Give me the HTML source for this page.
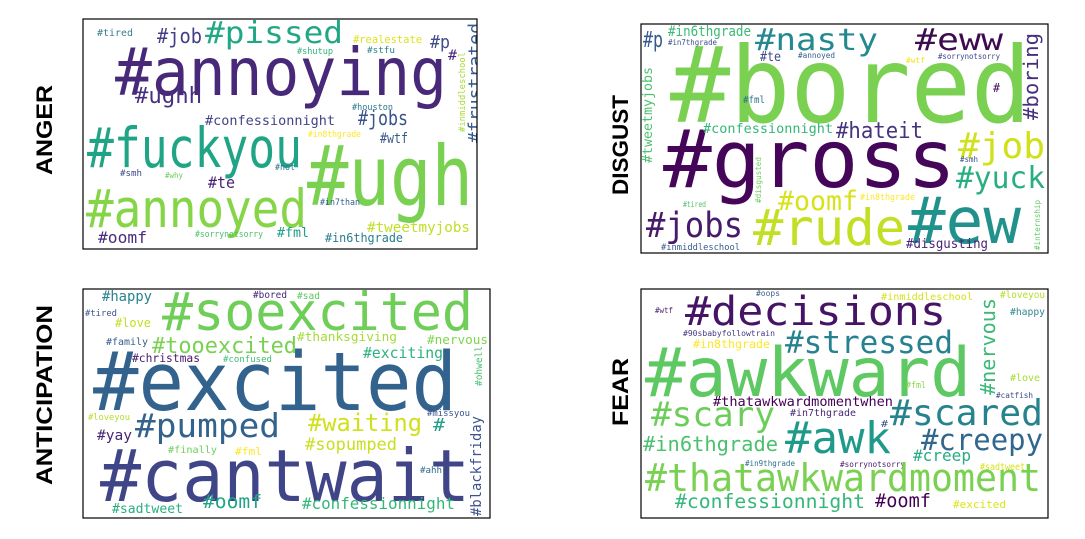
<!DOCTYPE html>
<html><head><meta charset="utf-8"><style>
html,body{margin:0;padding:0;background:#fff;width:1085px;height:539px;overflow:hidden}
svg{display:block}
.w{font-family:"DejaVu Sans Mono","Liberation Mono",monospace}
.lbl{font-family:"Liberation Sans",sans-serif;font-weight:bold;font-size:22px;fill:#000}
</style></head><body>
<svg width="1085" height="539" viewBox="0 0 1085 539">
<defs>
<clipPath id="cA"><rect x="83" y="19" width="394" height="230"/></clipPath>
<clipPath id="cD"><rect x="641" y="24" width="407" height="229"/></clipPath>
<clipPath id="cN"><rect x="83" y="289" width="407" height="229"/></clipPath>
<clipPath id="cF"><rect x="641" y="289" width="407" height="229"/></clipPath>
</defs>
<text class="lbl" x="130" y="52" text-anchor="middle" textLength="90" lengthAdjust="spacingAndGlyphs" transform="rotate(-90 130 52) translate(-130 -52) translate(0 0)" style="display:none">ANGER</text>
<g>
<text class="lbl" x="0" y="0" text-anchor="middle" textLength="90" lengthAdjust="spacingAndGlyphs" transform="translate(52 130) rotate(-90)">ANGER</text>
<text class="lbl" x="0" y="0" text-anchor="middle" textLength="100" lengthAdjust="spacingAndGlyphs" transform="translate(628 145) rotate(-90)">DISGUST</text>
<text class="lbl" x="0" y="0" text-anchor="middle" textLength="180" lengthAdjust="spacingAndGlyphs" transform="translate(52 395) rotate(-90)">ANTICIPATION</text>
<text class="lbl" x="0" y="0" text-anchor="middle" textLength="68" lengthAdjust="spacingAndGlyphs" transform="translate(628 392) rotate(-90)">FEAR</text>
</g>

<!-- ANGER -->
<g>
<g class="w" clip-path="url(#cA)" lengthAdjust="spacingAndGlyphs">
<text x="115" y="95" font-size="66" textLength="332" lengthAdjust="spacingAndGlyphs" fill="#482878">#annoying</text>
<text x="307" y="205" font-size="83" textLength="166" lengthAdjust="spacingAndGlyphs" fill="#7ad151">#ugh</text>
<text x="87" y="167" font-size="55" textLength="215" lengthAdjust="spacingAndGlyphs" fill="#20a486">#fuckyou</text>
<text x="86" y="227" font-size="53" textLength="221" lengthAdjust="spacingAndGlyphs" fill="#86d549">#annoyed</text>
<text x="205" y="43" font-size="30" textLength="138" lengthAdjust="spacingAndGlyphs" fill="#22a785">#pissed</text>
<text x="157" y="43" font-size="20" textLength="45" lengthAdjust="spacingAndGlyphs" fill="#433e85">#job</text>
<text x="97" y="36" font-size="10" textLength="36" lengthAdjust="spacingAndGlyphs" fill="#3b7c8c">#tired</text>
<text x="353" y="43" font-size="10.4" textLength="69" lengthAdjust="spacingAndGlyphs" fill="#dde318">#realestate</text>
<text x="297" y="54" font-size="8.5" textLength="36" lengthAdjust="spacingAndGlyphs" fill="#2fb47c">#shutup</text>
<text x="367" y="53" font-size="9" textLength="28" lengthAdjust="spacingAndGlyphs" fill="#27808e">#stfu</text>
<text x="430" y="48" font-size="18" textLength="20" lengthAdjust="spacingAndGlyphs" fill="#3e4c8a">#p</text>
<text x="448" y="60" font-size="14" textLength="9" lengthAdjust="spacingAndGlyphs" fill="#482677">#</text>
<text x="0" y="0" font-size="18" textLength="120" lengthAdjust="spacingAndGlyphs" fill="#365c8d" transform="translate(481 143) rotate(-90)">#frustrated</text>
<text x="0" y="0" font-size="9" textLength="80" lengthAdjust="spacingAndGlyphs" fill="#a8db34" transform="translate(465 132) rotate(-90)">#inmiddleschool</text>
<text x="135" y="103" font-size="22" textLength="67" lengthAdjust="spacingAndGlyphs" fill="#46307e">#ughh</text>
<text x="205" y="125" font-size="13.5" textLength="130" lengthAdjust="spacingAndGlyphs" fill="#414487">#confessionnight</text>
<text x="358" y="125" font-size="20" textLength="50" lengthAdjust="spacingAndGlyphs" fill="#3b528b">#jobs</text>
<text x="352" y="110" font-size="9" textLength="41" lengthAdjust="spacingAndGlyphs" fill="#2a788e">#houston</text>
<text x="308" y="137" font-size="8.5" textLength="53" lengthAdjust="spacingAndGlyphs" fill="#fde725">#in8thgrade</text>
<text x="380" y="143" font-size="14" textLength="28" lengthAdjust="spacingAndGlyphs" fill="#38598c">#wtf</text>
<text x="120" y="176" font-size="9" textLength="22" lengthAdjust="spacingAndGlyphs" fill="#3e4989">#smh</text>
<text x="165" y="178" font-size="8" textLength="18" lengthAdjust="spacingAndGlyphs" fill="#6ccd5a">#why</text>
<text x="275" y="170" font-size="8.5" textLength="20" lengthAdjust="spacingAndGlyphs" fill="#2d718e">#not</text>
<text x="208" y="188" font-size="16" textLength="27" lengthAdjust="spacingAndGlyphs" fill="#481f70">#te</text>
<text x="320" y="205" font-size="8.5" textLength="40" lengthAdjust="spacingAndGlyphs" fill="#35608d">#in7than</text>
<text x="367" y="232" font-size="14.3" textLength="103" lengthAdjust="spacingAndGlyphs" fill="#c0df25">#tweetmyjobs</text>
<text x="98" y="243" font-size="16" textLength="49" lengthAdjust="spacingAndGlyphs" fill="#472d7b">#oomf</text>
<text x="195" y="237" font-size="8.5" textLength="68" lengthAdjust="spacingAndGlyphs" fill="#4ac16d">#sorrynotsorry</text>
<text x="277" y="237" font-size="13" textLength="32" lengthAdjust="spacingAndGlyphs" fill="#1f9e89">#fml</text>
<text x="325" y="242" font-size="12.8" textLength="78" lengthAdjust="spacingAndGlyphs" fill="#287d8e">#in6thgrade</text>
</g>
<rect x="83" y="19" width="394" height="230" fill="none" stroke="#000" stroke-width="1.2"/>
</g>

<!-- DISGUST -->
<g>
<g class="w" clip-path="url(#cD)">
<text x="670" y="122" font-size="105" textLength="361" lengthAdjust="spacingAndGlyphs" fill="#7ad151">#bored</text>
<text x="663" y="187" font-size="80" textLength="293" lengthAdjust="spacingAndGlyphs" fill="#450559">#gross</text>
<text x="908" y="243" font-size="64" textLength="113" lengthAdjust="spacingAndGlyphs" fill="#21918c">#ew</text>
<text x="753" y="245" font-size="50" textLength="152" lengthAdjust="spacingAndGlyphs" fill="#c2df23">#rude</text>
<text x="646" y="237" font-size="35" textLength="97" lengthAdjust="spacingAndGlyphs" fill="#481a6c">#jobs</text>
<text x="778" y="210" font-size="27" textLength="80" lengthAdjust="spacingAndGlyphs" fill="#d8e219">#oomf</text>
<text x="755" y="50" font-size="30" textLength="123" lengthAdjust="spacingAndGlyphs" fill="#23898e">#nasty</text>
<text x="915" y="50" font-size="30" textLength="88" lengthAdjust="spacingAndGlyphs" fill="#3d0b4f">#eww</text>
<text x="643" y="47" font-size="22" textLength="20" lengthAdjust="spacingAndGlyphs" fill="#375a8c">#p</text>
<text x="668" y="36" font-size="13.8" textLength="83" lengthAdjust="spacingAndGlyphs" fill="#3aba76">#in6thgrade</text>
<text x="668" y="45" font-size="8" textLength="49" lengthAdjust="spacingAndGlyphs" fill="#3b528b">#in7thgrade</text>
<text x="760" y="61" font-size="13" textLength="21" lengthAdjust="spacingAndGlyphs" fill="#3e4a89">#te</text>
<text x="798" y="58" font-size="8" textLength="37" lengthAdjust="spacingAndGlyphs" fill="#355f8d">#annoyed</text>
<text x="906" y="63" font-size="8" textLength="19" lengthAdjust="spacingAndGlyphs" fill="#efe51c">#wtf</text>
<text x="938" y="59" font-size="8" textLength="62" lengthAdjust="spacingAndGlyphs" fill="#3f4889">#sorrynotsorry</text>
<text x="0" y="0" font-size="20" textLength="87" lengthAdjust="spacingAndGlyphs" fill="#472f7d" transform="translate(1038 120) rotate(-90)">#boring</text>
<text x="0" y="0" font-size="13.3" textLength="96" lengthAdjust="spacingAndGlyphs" fill="#4cc26c" transform="translate(652 163) rotate(-90)">#tweetmyjobs</text>
<text x="993" y="92" font-size="12" textLength="7" lengthAdjust="spacingAndGlyphs" fill="#450a5c">#</text>
<text x="743" y="103" font-size="10" textLength="22" lengthAdjust="spacingAndGlyphs" fill="#2c728e">#fml</text>
<text x="703" y="133" font-size="13.5" textLength="130" lengthAdjust="spacingAndGlyphs" fill="#35b779">#confessionnight</text>
<text x="836" y="138" font-size="22" textLength="87" lengthAdjust="spacingAndGlyphs" fill="#46337e">#hateit</text>
<text x="958" y="158" font-size="36" textLength="87" lengthAdjust="spacingAndGlyphs" fill="#d0e11c">#job</text>
<text x="956" y="188" font-size="30" textLength="89" lengthAdjust="spacingAndGlyphs" fill="#29af7f">#yuck</text>
<text x="960" y="162" font-size="8" textLength="18" lengthAdjust="spacingAndGlyphs" fill="#3a538b">#smh</text>
<text x="0" y="0" font-size="7.7" textLength="46" lengthAdjust="spacingAndGlyphs" fill="#6ccd5a" transform="translate(761 203) rotate(-90)">#disgusted</text>
<text x="860" y="200" font-size="9" textLength="55" lengthAdjust="spacingAndGlyphs" fill="#fde725">#in8thgrade</text>
<text x="683" y="207" font-size="7.5" textLength="23" lengthAdjust="spacingAndGlyphs" fill="#54c568">#tired</text>
<text x="906" y="248" font-size="13.5" textLength="82" lengthAdjust="spacingAndGlyphs" fill="#482475">#disgusting</text>
<text x="661" y="250" font-size="9" textLength="79" lengthAdjust="spacingAndGlyphs" fill="#365c8d">#inmiddleschool</text>
<text x="0" y="0" font-size="8" textLength="50" lengthAdjust="spacingAndGlyphs" fill="#5ec962" transform="translate(1040 250) rotate(-90)">#internship</text>
</g>
<rect x="641" y="24" width="407" height="229" fill="none" stroke="#000" stroke-width="1.2"/>
</g>

<!-- ANTICIPATION -->
<g>
<g class="w" clip-path="url(#cN)">
<text x="93" y="410" font-size="81" textLength="364" lengthAdjust="spacingAndGlyphs" fill="#33638d">#excited</text>
<text x="100" y="501" font-size="72" textLength="370" lengthAdjust="spacingAndGlyphs" fill="#404588">#cantwait</text>
<text x="162" y="330" font-size="53" textLength="311" lengthAdjust="spacingAndGlyphs" fill="#6ece58">#soexcited</text>
<text x="152" y="353" font-size="22" textLength="145" lengthAdjust="spacingAndGlyphs" fill="#7ad151">#tooexcited</text>
<text x="135" y="437" font-size="33" textLength="145" lengthAdjust="spacingAndGlyphs" fill="#33638d">#pumped</text>
<text x="308" y="431" font-size="23.7" textLength="114" lengthAdjust="spacingAndGlyphs" fill="#d0e11c">#waiting</text>
<text x="305" y="450" font-size="17" textLength="92" lengthAdjust="spacingAndGlyphs" fill="#c8e020">#sopumped</text>
<text x="102" y="301" font-size="14" textLength="50" lengthAdjust="spacingAndGlyphs" fill="#25858e">#happy</text>
<text x="85" y="316" font-size="9" textLength="32" lengthAdjust="spacingAndGlyphs" fill="#3b528b">#tired</text>
<text x="115" y="327" font-size="12" textLength="36" lengthAdjust="spacingAndGlyphs" fill="#c2df23">#love</text>
<text x="253" y="298" font-size="9.5" textLength="34" lengthAdjust="spacingAndGlyphs" fill="#482878">#bored</text>
<text x="297" y="299" font-size="9.5" textLength="23" lengthAdjust="spacingAndGlyphs" fill="#5ec962">#sad</text>
<text x="106" y="345" font-size="10" textLength="42" lengthAdjust="spacingAndGlyphs" fill="#355f8d">#family</text>
<text x="297" y="341" font-size="12.8" textLength="100" lengthAdjust="spacingAndGlyphs" fill="#a5db36">#thanksgiving</text>
<text x="427" y="344" font-size="12.7" textLength="61" lengthAdjust="spacingAndGlyphs" fill="#7fd34e">#nervous</text>
<text x="132" y="362" font-size="11.3" textLength="68" lengthAdjust="spacingAndGlyphs" fill="#48186a">#christmas</text>
<text x="223" y="362" font-size="9" textLength="49" lengthAdjust="spacingAndGlyphs" fill="#3fbc73">#confused</text>
<text x="363" y="358" font-size="14.8" textLength="80" lengthAdjust="spacingAndGlyphs" fill="#2db27d">#exciting</text>
<text x="0" y="0" font-size="9.5" textLength="40" lengthAdjust="spacingAndGlyphs" fill="#4ac16d" transform="translate(482 386) rotate(-90)">#ohwell</text>
<text x="88" y="420" font-size="8.6" textLength="42" lengthAdjust="spacingAndGlyphs" fill="#b5de2b">#loveyou</text>
<text x="427" y="416" font-size="9" textLength="43" lengthAdjust="spacingAndGlyphs" fill="#3b528b">#missyou</text>
<text x="433" y="431" font-size="18" textLength="12" lengthAdjust="spacingAndGlyphs" fill="#1f9f88">#</text>
<text x="0" y="0" font-size="14" textLength="100" lengthAdjust="spacingAndGlyphs" fill="#3b528b" transform="translate(481 516) rotate(-90)">#blackfriday</text>
<text x="97" y="440" font-size="14.5" textLength="35" lengthAdjust="spacingAndGlyphs" fill="#482475">#yay</text>
<text x="168" y="453" font-size="10" textLength="49" lengthAdjust="spacingAndGlyphs" fill="#6ccd5a">#finally</text>
<text x="235" y="455" font-size="11" textLength="27" lengthAdjust="spacingAndGlyphs" fill="#fde725">#fml</text>
<text x="420" y="473" font-size="9" textLength="22" lengthAdjust="spacingAndGlyphs" fill="#31688e">#ahh</text>
<text x="112" y="513" font-size="13" textLength="71" lengthAdjust="spacingAndGlyphs" fill="#29af7f">#sadtweet</text>
<text x="203" y="508" font-size="19" textLength="59" lengthAdjust="spacingAndGlyphs" fill="#20a486">#oomf</text>
<text x="302" y="509" font-size="15.9" textLength="153" lengthAdjust="spacingAndGlyphs" fill="#35b779">#confessionnight</text>
</g>
<rect x="83" y="289" width="407" height="229" fill="none" stroke="#000" stroke-width="1.2"/>
</g>

<!-- FEAR -->
<g>
<g class="w" clip-path="url(#cF)">
<text x="645" y="396" font-size="68" textLength="326" lengthAdjust="spacingAndGlyphs" fill="#5ec962">#awkward</text>
<text x="685" y="325" font-size="40" textLength="261" lengthAdjust="spacingAndGlyphs" fill="#471365">#decisions</text>
<text x="785" y="353" font-size="31" textLength="168" lengthAdjust="spacingAndGlyphs" fill="#26828e">#stressed</text>
<text x="0" y="0" font-size="20" textLength="97" lengthAdjust="spacingAndGlyphs" fill="#3aba76" transform="translate(995 395) rotate(-90)">#nervous</text>
<text x="881" y="300" font-size="10" textLength="92" lengthAdjust="spacingAndGlyphs" fill="#d5e21a">#inmiddleschool</text>
<text x="1000" y="298" font-size="9.5" textLength="45" lengthAdjust="spacingAndGlyphs" fill="#b5de2b">#loveyou</text>
<text x="1010" y="315" font-size="10" textLength="35" lengthAdjust="spacingAndGlyphs" fill="#31868d">#happy</text>
<text x="756" y="296" font-size="8" textLength="24" lengthAdjust="spacingAndGlyphs" fill="#3b5c8c">#oops</text>
<text x="655" y="313" font-size="8" textLength="18" lengthAdjust="spacingAndGlyphs" fill="#481f70">#wtf</text>
<text x="683" y="336" font-size="8" textLength="92" lengthAdjust="spacingAndGlyphs" fill="#443983">#90sbabyfollowtrain</text>
<text x="693" y="348" font-size="11.7" textLength="77" lengthAdjust="spacingAndGlyphs" fill="#fde725">#in8thgrade</text>
<text x="1010" y="381" font-size="10" textLength="30" lengthAdjust="spacingAndGlyphs" fill="#a8db34">#love</text>
<text x="906" y="388" font-size="9" textLength="20" lengthAdjust="spacingAndGlyphs" fill="#86d549">#fml</text>
<text x="996" y="398" font-size="8" textLength="37" lengthAdjust="spacingAndGlyphs" fill="#3e4989">#catfish</text>
<text x="713" y="406" font-size="13.6" textLength="180" lengthAdjust="spacingAndGlyphs" fill="#440154">#thatawkwardmomentwhen</text>
<text x="790" y="416" font-size="10" textLength="66" lengthAdjust="spacingAndGlyphs" fill="#482878">#in7thgrade</text>
<text x="651" y="426" font-size="34" textLength="124" lengthAdjust="spacingAndGlyphs" fill="#6ccd5a">#scary</text>
<text x="890" y="425" font-size="36" textLength="153" lengthAdjust="spacingAndGlyphs" fill="#25838e">#scared</text>
<text x="881" y="427" font-size="10" textLength="7" lengthAdjust="spacingAndGlyphs" fill="#3b528b">#</text>
<text x="785" y="453" font-size="44" textLength="106" lengthAdjust="spacingAndGlyphs" fill="#1f9a8a">#awk</text>
<text x="921" y="450" font-size="29" textLength="122" lengthAdjust="spacingAndGlyphs" fill="#31668e">#creepy</text>
<text x="643" y="451" font-size="20" textLength="135" lengthAdjust="spacingAndGlyphs" fill="#4ac16d">#in6thgrade</text>
<text x="913" y="461" font-size="16" textLength="58" lengthAdjust="spacingAndGlyphs" fill="#26ad81">#creep</text>
<text x="745" y="466" font-size="7.6" textLength="50" lengthAdjust="spacingAndGlyphs" fill="#2c728e">#in9thgrade</text>
<text x="840" y="467" font-size="8" textLength="65" lengthAdjust="spacingAndGlyphs" fill="#481c6e">#sorrynotsorry</text>
<text x="980" y="470" font-size="9.3" textLength="45" lengthAdjust="spacingAndGlyphs" fill="#d8e219">#sadtweet</text>
<text x="645" y="491" font-size="38.7" textLength="396" lengthAdjust="spacingAndGlyphs" fill="#7ad151">#thatawkwardmoment</text>
<text x="675" y="508" font-size="19.7" textLength="190" lengthAdjust="spacingAndGlyphs" fill="#35b779">#confessionnight</text>
<text x="875" y="507" font-size="19" textLength="56" lengthAdjust="spacingAndGlyphs" fill="#440154">#oomf</text>
<text x="953" y="508" font-size="11" textLength="53" lengthAdjust="spacingAndGlyphs" fill="#dde318">#excited</text>
</g>
<rect x="641" y="289" width="407" height="229" fill="none" stroke="#000" stroke-width="1.2"/>
</g>
</svg>
</body></html>
